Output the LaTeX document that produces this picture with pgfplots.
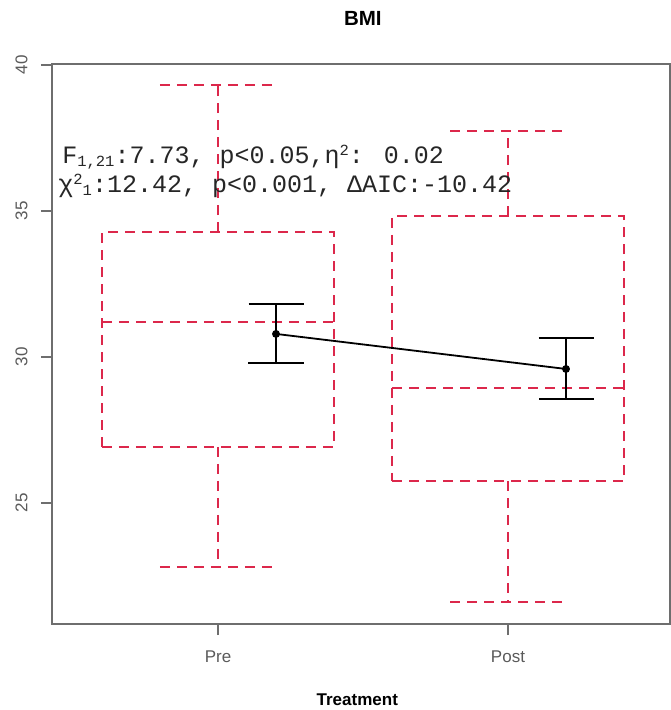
\documentclass[border=0pt]{standalone}
\usepackage{fontspec}
\setmainfont{Liberation Sans}
\newfontfamily\mono{Liberation Mono}
\usepackage{pgfplots}
\pgfplotsset{compat=1.18}

\definecolor{boxred}{RGB}{220,40,75}
\definecolor{axgray}{RGB}{110,110,110}
\definecolor{labgray}{RGB}{90,90,90}

\newcommand{\sml}{\fontsize{15.5}{16}\selectfont}

\begin{document}
\begin{tikzpicture}
\useasboundingbox (-52pt,-86pt) rectangle (619pt,624pt);
\begin{axis}[
    at={(0,0)}, anchor=south west,
    width=618pt, height=560pt, scale only axis,
    xmin=0.4276, xmax=2.5586,
    ymin=20.856, ymax=40.034,
    axis line style={axgray, line width=1.5pt},
    xtick={1,2}, xticklabels={Pre,Post},
    ytick={25,30,35,40},
    xtick pos=bottom, ytick pos=left,
    tick align=outside, major tick length=11pt,
    tick style={axgray, line width=1.5pt},
    ticklabel style={font=\fontsize{17}{20}\selectfont, text=labgray},
    yticklabel style={rotate=90, anchor=south},
    yticklabel shift=10pt, xticklabel shift=12pt,
    /pgf/number format/assume math mode=true,
    title={BMI},
    title style={font=\bfseries\fontsize{20.5}{24}\selectfont, at={(0.503,1)}, anchor=base, yshift=32pt},
    xlabel={Treatment},
    xlabel style={font=\bfseries\fontsize{17}{20}\selectfont, at={(0.494,0)}, anchor=base, yshift=-81pt},
    clip=false,
    redbox/.style={boxred, line width=1.8pt, dash pattern=on 10pt off 7pt, no marks},
]

% Pre: whiskers 22.81 / 39.32, box 26.92 - 34.28, median 31.20
\addplot[redbox] coordinates {(0.6,26.92) (1.4,26.92) (1.4,34.28) (0.6,34.28) (0.6,26.92)};
\addplot[redbox] coordinates {(0.6,31.20) (1.4,31.20)};
\addplot[redbox] coordinates {(1,34.28) (1,39.32)};
\addplot[redbox] coordinates {(0.8,39.32) (1.2,39.32)};
\addplot[redbox] coordinates {(1,26.92) (1,22.81)};
\addplot[redbox] coordinates {(0.8,22.81) (1.2,22.81)};

% Post: whiskers 21.61 / 37.74, box 25.75 - 34.83, median 28.94
\addplot[redbox] coordinates {(1.6,25.75) (2.4,25.75) (2.4,34.83) (1.6,34.83) (1.6,25.75)};
\addplot[redbox] coordinates {(1.6,28.94) (2.4,28.94)};
\addplot[redbox] coordinates {(2,34.83) (2,37.74)};
\addplot[redbox] coordinates {(1.8,37.74) (2.2,37.74)};
\addplot[redbox] coordinates {(2,25.75) (2,21.61)};
\addplot[redbox] coordinates {(1.8,21.61) (2.2,21.61)};

% means with error bars
\addplot[black, line width=1.8pt, mark=*, mark size=3pt,
    error bars/.cd, y dir=both, y explicit,
    error bar style={line width=1.8pt},
    error mark options={rotate=90, mark size=27.5pt, line width=1.8pt}]
    coordinates {(1.2,30.79) += (0,1.03) -= (0,1.00)
                 (2.2,29.59) += (0,1.06) -= (0,1.03)};

\node[anchor=base west, inner sep=0, font=\mono\fontsize{25}{28}\selectfont, text=black!85]
    at (axis cs:0.4625,36.62)
    {F\raisebox{-3pt}{\sml 1,21}:7.73, p<0.05,η\raisebox{8pt}{\sml 2}: 0.02};
\node[anchor=base west, inner sep=0, font=\mono\fontsize{25}{28}\selectfont, text=black!85]
    at (axis cs:0.449,35.62)
    {χ\raisebox{8pt}{\sml 2}\raisebox{-3pt}{\sml 1}:12.42, p<0.001, ΔAIC:-10.42};
\end{axis}
\end{tikzpicture}
\end{document}
